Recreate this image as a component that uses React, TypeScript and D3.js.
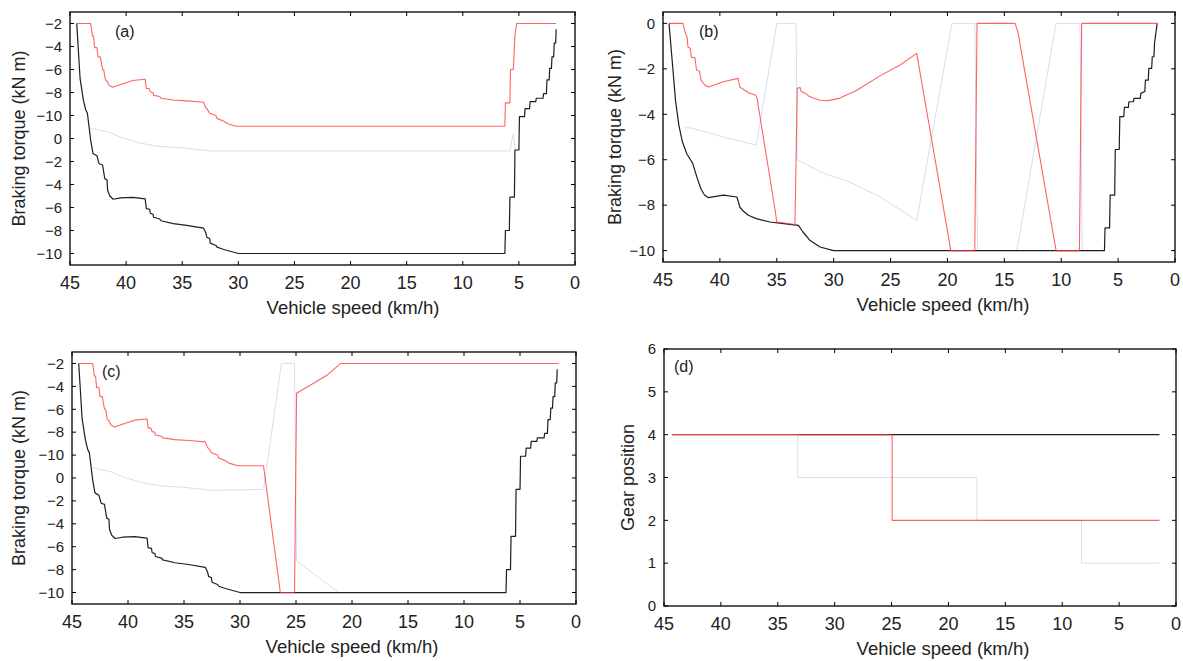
import React from 'react';
import * as d3 from 'd3';

type Pt = [number, number];

// ---------- tick values / labels ----------
const speedTicks = [45, 40, 35, 30, 25, 20, 15, 10, 5, 0];
const splitTickValues = [10, 8, 6, 4, 2, 0, -2, -4, -6, -8, -10];
const splitTickLabels = ['−2', '−4', '−6', '−8', '−10', '0', '−2', '−4', '−6', '−8', '−10'];
const torqueTickValues = [0, -2, -4, -6, -8, -10];
const torqueTickLabels = ['0', '−2', '−4', '−6', '−8', '−10'];
const gearTickValues = [0, 1, 2, 3, 4, 5, 6];
const gearTickLabels = ['0', '1', '2', '3', '4', '5', '6'];

// ---------- data: [speed km/h, value] ----------
// shared black curve for panels (a) and (c) (split axis units)
const blackAC: Pt[] = [
  [44.4, 10], [44.1, 5.2], [43.8, 3.3], [43.6, 2.5], [43.45, 2.2], [43.3, 1.0], [43.15, -0.2],
  [42.95, -1.3], [42.6, -1.5], [42.4, -2.2], [42.1, -2.3], [41.9, -3.5], [41.7, -3.6],
  [41.65, -4.5], [41.45, -5.0], [41.15, -5.28], [40.5, -5.17], [39.4, -5.12], [38.3, -5.25],
  [38.2, -6.1], [37.9, -6.15], [37.85, -6.5], [37.6, -6.6], [37.55, -6.85], [37.0, -7.0],
  [36.9, -7.15], [35.8, -7.4], [34.6, -7.55], [33.1, -7.8], [32.9, -8.2], [32.8, -8.6],
  [32.55, -8.7], [32.5, -9.1], [32.0, -9.3], [31.9, -9.45], [31.3, -9.65], [30.0, -10],
  [6.25, -10], [6.2, -8.0], [5.85, -8.0], [5.8, -5.1], [5.4, -5.1], [5.35, -1.0], [5.0, -1.0],
  [4.95, 1.9], [4.5, 1.9], [4.45, 2.6], [4.05, 2.6], [4.0, 3.2], [3.5, 3.2], [3.45, 3.5],
  [2.85, 3.5], [2.8, 3.9], [2.55, 3.9], [2.5, 5.1], [2.3, 5.1], [2.25, 6.1], [2.1, 6.1],
  [2.05, 7.1], [1.9, 7.1], [1.85, 8.3], [1.72, 8.3], [1.68, 9.5],
];
const redEarly: Pt[] = [
  [44.4, 10], [43.15, 10], [43.0, 8.9], [42.9, 8.9], [42.8, 7.9], [42.6, 7.9], [42.5, 7.1],
  [42.3, 7.1], [42.1, 6.0], [42.0, 6.0], [41.85, 5.1], [41.7, 5.0], [41.5, 4.6], [41.2, 4.45],
  [40.5, 4.7], [39.4, 5.05], [38.3, 5.15], [38.2, 4.35], [37.95, 4.35], [37.85, 4.05],
  [37.6, 4.0], [37.55, 3.75], [37.0, 3.65], [36.9, 3.5], [35.8, 3.35], [34.6, 3.27],
  [33.1, 3.15], [32.9, 2.65], [32.8, 2.6], [32.55, 2.2], [32.0, 2.0], [31.9, 1.75],
  [31.3, 1.5], [31.0, 1.3], [30.2, 1.07],
];
const redATail: Pt[] = [
  [6.25, 1.07], [6.2, 3.1], [5.8, 3.1], [5.75, 6.0], [5.5, 6.0], [5.35, 9.0], [5.2, 10], [1.68, 10],
];
const redCTail: Pt[] = [
  [27.9, 1.07], [26.4, -10], [25.13, -10], [24.95, 7.4], [22.2, 9.0], [21.0, 10], [1.55, 10],
];
const blueEarly: Pt[] = [
  [43.2, 0.9], [41.7, 0.6], [40.3, 0.05], [38.8, -0.38], [37.3, -0.67], [34.9, -0.82], [32.5, -1.08],
];
const blueATail: Pt[] = [[5.8, -1.08], [5.5, 0.4], [5.3, -1.1]];
const blueCTail: Pt[] = [[27.9, -1.0], [26.3, 10], [25.13, 10], [24.95, -7.25], [21.2, -10]];

// panel (b) (kN m)
const blackB: Pt[] = [
  [44.47, 0], [44.2, -1.6], [43.9, -3.4], [43.6, -4.5], [43.3, -5.2], [42.9, -5.75], [42.4, -6.15],
  [42.0, -6.8], [41.65, -7.3], [41.35, -7.55], [41.0, -7.67], [39.7, -7.56], [38.5, -7.64],
  [38.25, -8.08], [37.95, -8.26], [37.5, -8.44], [36.8, -8.59], [35.6, -8.74], [34.4, -8.81],
  [33.1, -8.89], [32.7, -9.18], [32.1, -9.54], [31.2, -9.84], [30.0, -10], [6.2, -10],
  [6.15, -9.0], [5.75, -9.0], [5.7, -7.56], [5.3, -7.56], [5.25, -5.55], [4.9, -5.55],
  [4.85, -4.1], [4.5, -4.1], [4.45, -3.7], [4.1, -3.7], [4.05, -3.45], [3.65, -3.45],
  [3.6, -3.3], [3.05, -3.3], [3.0, -3.08], [2.65, -3.0], [2.6, -2.5], [2.35, -2.5],
  [2.3, -1.98], [2.05, -1.98], [2.0, -1.47], [1.85, -1.47], [1.8, -0.88], [1.57, 0],
];
const redB: Pt[] = [
  [44.47, 0], [43.25, 0], [43.0, -0.5], [42.9, -0.55], [42.8, -1.05], [42.6, -1.1], [42.5, -1.5],
  [42.2, -1.5], [42.05, -2.05], [41.8, -2.1], [41.65, -2.5], [41.35, -2.7], [41.0, -2.8],
  [39.7, -2.57], [38.4, -2.42], [38.25, -2.8], [37.95, -2.9], [37.5, -3.05], [36.9, -3.15],
  [36.75, -3.25], [35.15, -8.2], [35.0, -8.74], [33.4, -8.85], [33.2, -2.86], [32.95, -2.82],
  [32.85, -3.0], [32.4, -3.1], [32.2, -3.2], [31.8, -3.28], [31.2, -3.38], [30.5, -3.4],
  [29.5, -3.3], [28.0, -2.95], [25.9, -2.3], [24.2, -1.84], [22.7, -1.32], [19.7, -10],
  [17.6, -10], [17.4, 0], [14.05, 0], [13.8, -0.4], [10.45, -10], [8.4, -10], [8.2, 0], [1.57, 0],
];
const blueB: Pt[] = [
  [43.1, -4.55], [41.8, -4.7], [39.7, -5.0], [36.8, -5.36], [35.0, 0], [33.3, 0], [33.2, -6.0],
  [30.9, -6.6], [28.6, -6.98], [25.9, -7.64], [22.7, -8.67], [19.6, 0], [17.6, 0], [17.35, -10],
  [13.9, -10], [10.45, 0], [8.35, 0], [8.15, -10], [6.2, -10],
];

// panel (d) gear position
const gearBlack: Pt[] = [[44.3, 4], [1.45, 4]];
const gearRed: Pt[] = [[44.3, 4], [24.95, 4], [24.95, 2], [1.45, 2]];
const gearBlue: Pt[] = [
  [44.3, 4], [33.25, 4], [33.25, 3], [17.5, 3], [17.5, 2], [8.3, 2], [8.3, 1], [1.45, 1],
];

const BLACK = '#1e1e1e';
const RED = '#ff3030';
const BLUE = '#ccd9f0';

type Series = { data: Pt[]; color: string; width: number; opacity: number };

type PanelProps = {
  left: number; top: number; right: number; bottom: number;
  yDomain: [number, number];
  yTicks: number[]; yLabels: string[];
  yTitle: string; yTitleX: number; xTitleX: number;
  tag: string; tagX: number; tagY: number;
  series: Series[];
};

const FONT = 'Liberation Sans, Arial, Helvetica, sans-serif';

function Panel(p: PanelProps) {
  const x = d3.scaleLinear().domain([45, 0]).range([p.left, p.right]);
  const y = d3.scaleLinear().domain(p.yDomain).range([p.bottom, p.top]);
  const line = d3.line<Pt>().x((d) => x(d[0])).y((d) => y(d[1]));
  const tl = 4;
  return (
    <g>
      {p.series.map((s, i) => (
        <path key={i} d={line(s.data) || ''} fill="none" stroke={s.color}
          strokeWidth={s.width} strokeOpacity={s.opacity} strokeLinejoin="round" />
      ))}
      <rect x={p.left} y={p.top} width={p.right - p.left} height={p.bottom - p.top}
        fill="none" stroke="#000" strokeWidth={1.3} />
      {speedTicks.map((t) => (
        <g key={'x' + t}>
          <line x1={x(t)} x2={x(t)} y1={p.bottom} y2={p.bottom - tl} stroke="#000" strokeWidth={1} />
          <line x1={x(t)} x2={x(t)} y1={p.top} y2={p.top + tl} stroke="#000" strokeWidth={1} />
          <text x={x(t)} y={p.bottom + 24} textAnchor="middle" fontSize={18} fontFamily={FONT} fill="#222">{t}</text>
        </g>
      ))}
      {p.yTicks.map((t, i) => (
        <g key={'y' + i}>
          <line x1={p.left} x2={p.left + tl} y1={y(t)} y2={y(t)} stroke="#000" strokeWidth={1} />
          <line x1={p.right} x2={p.right - tl} y1={y(t)} y2={y(t)} stroke="#000" strokeWidth={1} />
          <text x={p.left - 8} y={y(t) + 5.3} textAnchor="end" fontSize={15} fontFamily={FONT} fill="#222">{p.yLabels[i]}</text>
        </g>
      ))}
      <text x={p.xTitleX} y={p.bottom + 49} textAnchor="middle" fontSize={18.5} fontFamily={FONT} fill="#222">Vehicle speed (km/h)</text>
      <text transform={`translate(${p.yTitleX},${(p.top + p.bottom) / 2}) rotate(-90)`} textAnchor="middle"
        fontSize={18} fontFamily={FONT} fill="#222">{p.yTitle}</text>
      <text x={p.tagX} y={p.tagY} fontSize={16} fontFamily={FONT} fill="#222">{p.tag}</text>
    </g>
  );
}

export default function App() {
  const blackS = (d: Pt[]): Series => ({ data: d, color: BLACK, width: 1.2, opacity: 1 });
  const redS = (d: Pt[]): Series => ({ data: d, color: RED, width: 1.1, opacity: 0.75 });
  const blueS = (d: Pt[]): Series => ({ data: d, color: BLUE, width: 1, opacity: 0.85 });
  return (
    <svg width={1183} height={661} style={{ position: 'absolute', left: 0, top: 0, background: '#fff' }}>
      <Panel left={70} top={12} right={575} bottom={265} yDomain={[-11, 11]}
        yTicks={splitTickValues} yLabels={splitTickLabels} yTitle="Braking torque (kN m)" yTitleX={25}
        xTitleX={353} tag="(a)" tagX={115} tagY={37}
        series={[blueS([...blueEarly, ...blueATail]), blackS(blackAC), redS([...redEarly, ...redATail])]} />
      <Panel left={663} top={12} right={1175} bottom={262} yDomain={[-10.5, 0.5]}
        yTicks={torqueTickValues} yLabels={torqueTickLabels} yTitle="Braking torque (kN m)" yTitleX={621}
        xTitleX={943} tag="(b)" tagX={699} tagY={37}
        series={[blueS(blueB), blackS(blackB), redS(redB)]} />
      <Panel left={72} top={352} right={576} bottom={604} yDomain={[-11, 11]}
        yTicks={splitTickValues} yLabels={splitTickLabels} yTitle="Braking torque (kN m)" yTitleX={25}
        xTitleX={352} tag="(c)" tagX={102} tagY={377}
        series={[blueS([...blueEarly, ...blueCTail]), blackS(blackAC), redS([...redEarly, ...redCTail])]} />
      <Panel left={664} top={349} right={1176} bottom={606} yDomain={[0, 6]}
        yTicks={gearTickValues} yLabels={gearTickLabels} yTitle="Gear position" yTitleX={634}
        xTitleX={943} tag="(d)" tagX={674} tagY={372}
        series={[blackS(gearBlack), blueS(gearBlue), redS(gearRed)]} />
    </svg>
  );
}
